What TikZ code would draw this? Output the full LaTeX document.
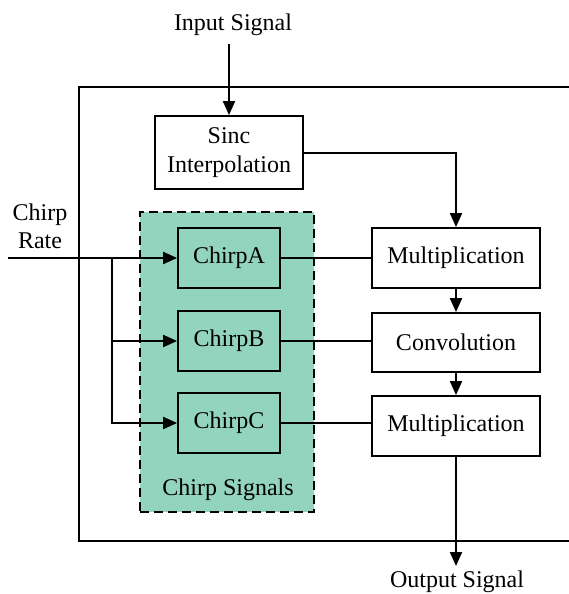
\documentclass[tikz,border=0pt]{standalone}
\usepackage{fontspec}
\setmainfont{Liberation Serif}
\usetikzlibrary{arrows.meta}
\definecolor{chirpgreen}{RGB}{146,212,190}
\begin{document}
\begin{tikzpicture}[x=1pt,y=-1pt,
  every node/.style={font=\fontsize{24}{27}\selectfont},
  blk/.style={draw,line width=1.8pt,minimum width=168pt,minimum height=60pt,inner sep=0pt,fill=white},
  chirpbox/.style={draw,line width=1.8pt,minimum width=102pt,minimum height=60pt,inner sep=0pt},
  arr/.style={line width=2pt,-{Triangle[length=14pt,width=12pt]}},
  thin/.style={line width=1.5pt}]
\useasboundingbox (0,0) rectangle (569,594);
% frame
\draw[line width=2pt] (569,87) -- (79,87) -- (79,541) -- (569,541);
% group
\node[draw,dash pattern=on 9pt off 5pt,line width=2.2pt,fill=chirpgreen,minimum width=174pt,minimum height=300pt,inner sep=0pt] (grp) at (227,362) {};
\node (grplbl) at (228,490) {Chirp Signals};
% blocks
\node[blk,minimum width=148pt,minimum height=73pt,align=center,font=\fontsize{24}{29}\selectfont] (sinc) at (229,152.5) {Sinc\\Interpolation};
\node[blk] (mult1) at (456,258) {Multiplication};
\node[blk,minimum height=59pt] (conv) at (456,342.5) {Convolution};
\node[blk] (mult2) at (456,426) {Multiplication};
\node[chirpbox] (ca) at (229,258) {ChirpA};
\node[chirpbox] (cb) at (229,341) {ChirpB};
\node[chirpbox] (cc) at (229,423) {ChirpC};
% labels
\node (inlbl) at (233,25) {Input Signal};
\node (outlbl) at (457,582) {Output Signal};
\node[align=center,font=\fontsize{24}{28}\selectfont] (rate) at (40,226) {Chirp\\Rate};
\coordinate (instart) at (229,44);
\coordinate (ratestart) at (8,258);
\coordinate (branch) at (112,258);
\coordinate (outend) at (456,566);
% connectors
\draw[arr] (instart) -- (sinc.north);
\draw[arr] (sinc.east) -| (mult1.north);
\draw[arr] (mult1.south) -- (conv.north);
\draw[arr] (conv.south) -- (mult2.north);
\draw[arr] (mult2.south) -- (outend);
\draw[arr] (ratestart) -- (ca.west);
\draw[arr] (branch) |- (cb.west);
\draw[arr] (branch) |- (cc.west);
\draw[thin] (ca.east) -- (ca.east -| mult1.west);
\draw[thin] (cb.east) -- (cb.east -| conv.west);
\draw[thin] (cc.east) -- (cc.east -| mult2.west);
\end{tikzpicture}
\end{document}
